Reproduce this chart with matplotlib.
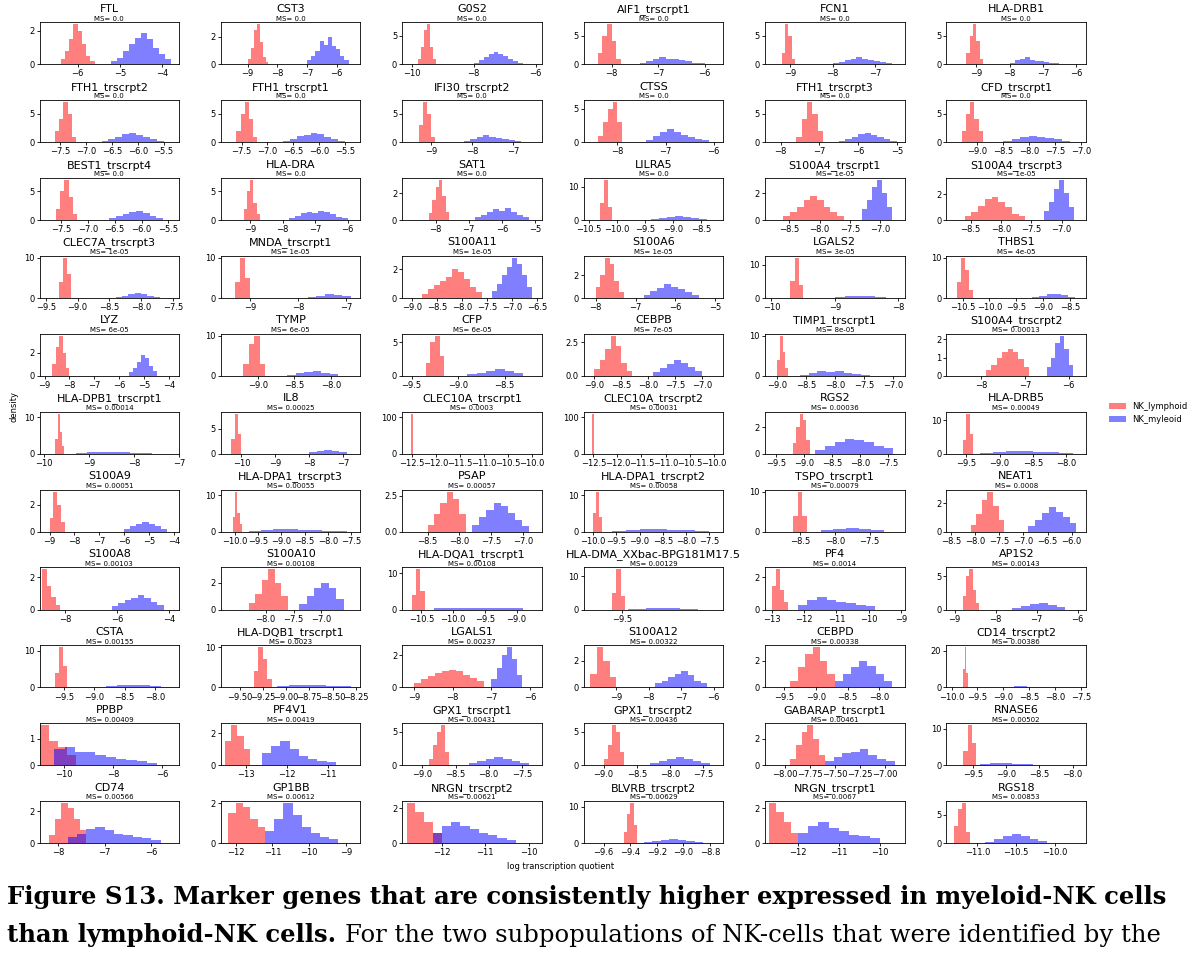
import matplotlib
matplotlib.use("Agg")
import matplotlib.pyplot as plt
import numpy as np

TITLES = [
    "FTL", "CST3", "G0S2", "AIF1_trscrpt1", "FCN1", "HLA-DRB1",
    "FTH1_trscrpt2", "FTH1_trscrpt1", "IFI30_trscrpt2", "CTSS", "FTH1_trscrpt3", "CFD_trscrpt1",
    "BEST1_trscrpt4", "HLA-DRA", "SAT1", "LILRA5", "S100A4_trscrpt1", "S100A4_trscrpt3",
    "CLEC7A_trscrpt3", "MNDA_trscrpt1", "S100A11", "S100A6", "LGALS2", "THBS1",
    "LYZ", "TYMP", "CFP", "CEBPB", "TIMP1_trscrpt1", "S100A4_trscrpt2",
    "HLA-DPB1_trscrpt1", "IL8", "CLEC10A_trscrpt1", "CLEC10A_trscrpt2", "RGS2", "HLA-DRB5",
    "S100A9", "HLA-DPA1_trscrpt3", "PSAP", "HLA-DPA1_trscrpt2", "TSPO_trscrpt1", "NEAT1",
    "S100A8", "S100A10", "HLA-DQA1_trscrpt1", "HLA-DMA_XXbac-BPG181M17.5", "PF4", "AP1S2",
    "CSTA", "HLA-DQB1_trscrpt1", "LGALS1", "S100A12", "CEBPD", "CD14_trscrpt2",
    "PPBP", "PF4V1", "GPX1_trscrpt1", "GPX1_trscrpt2", "GABARAP_trscrpt1", "RNASE6",
    "CD74", "GP1BB", "NRGN_trscrpt2", "BLVRB_trscrpt2", "NRGN_trscrpt1", "RGS18",
]

MS = (["0.0"] * 16 + ["1e-05"] * 6 + ["3e-05", "4e-05"]
      + ["6e-05", "6e-05", "6e-05", "7e-05", "8e-05", "0.00013"]
      + ["0.00014", "0.00025", "0.0003", "0.00031", "0.00036", "0.00049"]
      + ["0.00051", "0.00055", "0.00057", "0.00058", "0.00079", "0.0008"]
      + ["0.00103", "0.00108", "0.00108", "0.00129", "0.0014", "0.00143"]
      + ["0.00155", "0.0023", "0.00237", "0.00322", "0.00338", "0.00386"]
      + ["0.00409", "0.00419", "0.00431", "0.00436", "0.00461", "0.00502"]
      + ["0.00566", "0.00612", "0.00621", "0.00629", "0.0067", "0.00853"])

XLIMS = [
    (-6.9, -3.6), (-9.9, -5.2), (-10.3, -5.8), (-8.6, -5.6), (-9.6, -6.3), (-9.9, -5.7),
    (-7.9, -5.2), (-7.9, -5.2), (-9.7, -6.3), (-8.7, -5.8), (-8.4, -4.8), (-9.6, -6.9),
    (-7.9, -5.3), (-9.9, -5.6), (-9.0, -4.8), (-10.6, -8.1), (-8.9, -6.6), (-8.9, -6.6),
    (-9.6, -7.4), (-9.6, -6.7), (-9.2, -6.4), (-8.3, -4.8), (-10.1, -7.9), (-10.8, -8.2),
    (-9.2, -3.6), (-9.5, -7.6), (-9.6, -8.1), (-9.2, -6.6), (-9.2, -6.8), (-8.8, -5.6),
    (-10.1, -7.0), (-10.6, -6.5), (-12.7, -9.8), (-12.7, -9.8), (-9.7, -7.2), (-9.8, -7.7),
    (-9.4, -3.8), (-10.3, -7.3), (-8.9, -6.7), (-10.2, -7.2), (-9.0, -7.0), (-8.6, -5.7),
    (-9.0, -3.6), (-8.8, -6.3), (-10.8, -8.6), (-10.1, -7.9), (-13.2, -8.9), (-9.2, -5.8),
    (-9.9, -7.6), (-9.7, -8.2), (-9.3, -5.7), (-10.0, -5.7), (-9.8, -7.6), (-10.1, -7.4),
    (-11.0, -5.3), (-13.6, -10.2), (-9.3, -7.2), (-9.3, -7.2), (-8.2, -6.8), (-9.9, -7.8),
    (-8.4, -5.4), (-12.4, -8.6), (-12.9, -9.7), (-9.75, -8.7), (-12.8, -9.4), (-11.4, -9.6),
]

H = [-7.5, -7.0, -6.5, -6.0, -5.5]
XTICKS = [
    [-6, -5, -4], [-9, -8, -7, -6], [-10, -8, -6], [-8, -7, -6], [-9, -8, -7], [-9, -8, -7, -6],
    H, H, [-9, -8, -7], [-8, -7, -6], [-8, -7, -6, -5], [-9.0, -8.5, -8.0, -7.5, -7.0],
    H, [-9, -8, -7, -6], [-8, -7, -6, -5], [-10.5, -10.0, -9.5, -9.0, -8.5],
    [-8.5, -8.0, -7.5, -7.0], [-8.5, -8.0, -7.5, -7.0],
    [-9.5, -9.0, -8.5, -8.0, -7.5], [-9, -8, -7], [-9.0, -8.5, -8.0, -7.5, -7.0, -6.5],
    [-8, -7, -6, -5], [-10, -9, -8], [-10.5, -10.0, -9.5, -9.0, -8.5],
    [-9, -8, -7, -6, -5, -4], [-9.0, -8.5, -8.0], [-9.5, -9.0, -8.5],
    [-9.0, -8.5, -8.0, -7.5, -7.0], [-9.0, -8.5, -8.0, -7.5, -7.0], [-8, -7, -6],
    [-10, -9, -8, -7], [-10, -9, -8, -7], [-12.5, -12.0, -11.5, -11.0, -10.5, -10.0],
    [-12.5, -12.0, -11.5, -11.0, -10.5, -10.0], [-9.5, -9.0, -8.5, -8.0, -7.5],
    [-9.5, -9.0, -8.5, -8.0],
    [-9, -8, -7, -6, -5, -4], [-10.0, -9.5, -9.0, -8.5, -8.0, -7.5], [-8.5, -8.0, -7.5, -7.0],
    [-10.0, -9.5, -9.0, -8.5, -8.0, -7.5], [-8.5, -8.0, -7.5],
    [-8.5, -8.0, -7.5, -7.0, -6.5, -6.0],
    [-8, -6, -4], [-8.0, -7.5, -7.0], [-10.5, -10.0, -9.5, -9.0], [-9.5],
    [-13, -12, -11, -10, -9], [-9, -8, -7, -6],
    [-9.5, -9.0, -8.5, -8.0], [-9.50, -9.25, -9.00, -8.75, -8.50, -8.25], [-9, -8, -7, -6],
    [-9, -8, -7, -6], [-9.5, -9.0, -8.5, -8.0], [-10.0, -9.5, -9.0, -8.5, -8.0, -7.5],
    [-10, -8, -6], [-13, -12, -11], [-9.0, -8.5, -8.0, -7.5], [-9.0, -8.5, -8.0, -7.5],
    [-8.00, -7.75, -7.50, -7.25, -7.00], [-9.5, -9.0, -8.5, -8.0],
    [-8, -7, -6], [-12, -11, -10, -9], [-12, -11, -10], [-9.6, -9.4, -9.2, -9.0, -8.8],
    [-12, -11, -10], [-11.0, -10.5, -10.0],
]
TWO_DEC = {49, 58}

YTICKS = [
    [0, 2], [0, 2], [0, 5], [0, 5], [0, 5], [0, 5],
    [0, 5], [0, 5], [0, 5], [0, 5], [0, 5], [0, 5],
    [0, 5], [0, 5], [0, 2], [0, 10], [0, 2], [0, 2],
    [0, 10], [0, 10], [0, 2], [0, 2], [0, 10], [0, 10],
    [0, 2], [0, 10], [0, 5], [0, 2.5], [0, 10], [0, 1, 2],
    [0, 10], [0, 5], [0, 100], [0, 100], [0, 2], [0, 10],
    [0, 2], [0, 10], [0, 2.5], [0, 10], [0, 10], [0, 2],
    [0, 2], [0, 2], [0, 10], [0, 10], [0, 2], [0, 5],
    [0, 10], [0, 10], [0, 2], [0, 2], [0, 2], [0, 20],
    [0, 1], [0, 2], [0, 5], [0, 5], [0, 2], [0, 10],
    [0, 2], [0, 2], [0, 2], [0, 10], [0, 2], [0, 5],
]

# (start, end) of histogram range per panel, and bin heights
RED_RANGE = [
    (-6.4, -5.6), (-9.0, -8.3), (-9.8, -9.2), (-8.3, -7.8), (-9.2, -8.9), (-9.3, -8.8),
    (-7.6, -7.2), (-7.6, -7.2), (-9.3, -8.9), (-8.4, -7.9), (-7.6, -6.9), (-9.3, -8.9),
    (-7.6, -7.2), (-9.2, -8.7), (-8.2, -7.6), (-10.3, -10.1), (-8.6, -7.6), (-8.6, -7.6),
    (-9.3, -9.1), (-9.3, -9.0), (-8.8, -7.6), (-8.0, -7.3), (-9.7, -9.5), (-10.6, -10.3),
    (-8.7, -8.0), (-9.2, -8.9), (-9.35, -9.15), (-9.0, -8.3), (-9.0, -8.8), (-7.9, -6.9),
    (-9.75, -9.55), (-10.3, -10.0), (-12.52, -12.48), (-12.52, -12.48), (-9.2, -8.9), (-9.55, -9.4),
    (-9.0, -8.4), (-10.05, -9.85), (-8.5, -7.9), (-10.0, -9.8), (-8.6, -8.4), (-8.1, -7.4),
    (-8.9, -8.2), (-8.3, -7.6), (-10.65, -10.45), (-9.65, -9.45), (-13.0, -12.5), (-8.8, -8.4),
    (-9.65, -9.45), (-9.35, -9.15), (-9.0, -7.2), (-9.8, -9.0), (-9.4, -8.7), (-9.78, -9.68),
    (-11.0, -9.5), (-13.5, -12.9), (-8.9, -8.6), (-9.0, -8.7), (-7.95, -7.6), (-9.65, -9.45),
    (-8.2, -7.4), (-12.2, -11.2), (-12.8, -12.0), (-9.45, -9.35), (-12.7, -12.0), (-11.3, -11.1),
]
RED_DENS = [
    [0.3, 0.8, 1.5, 2.4, 2.0, 1.2, 0.5, 0.2], [0.4, 1.2, 2.5, 2.9, 1.6, 0.5, 0.2],
    [1, 3, 6, 7, 3, 1], [2, 5, 7, 4, 1], [2, 7, 5, 1], [2, 5, 7, 4, 1],
    [2, 4, 7, 5, 1], [2, 5, 7, 4, 1], [3, 7, 5, 1], [1, 3, 5, 6, 3], [1, 4, 7, 5, 2], [2, 5, 7, 4, 2],
    [2, 5, 7, 4, 1], [2, 5, 7, 3, 1], [0.5, 1.5, 2.5, 3.0, 1.8, 0.6], [5, 12, 4],
    [0.3, 0.6, 1.0, 1.5, 1.8, 1.5, 1.0, 0.6, 0.3], [0.3, 0.6, 1.1, 1.6, 1.8, 1.4, 1.0, 0.5, 0.3],
    [4, 10, 6], [4, 10, 5], [0.3, 0.6, 0.9, 1.2, 1.5, 2.0, 1.8, 1.3, 0.8, 0.4],
    [1, 2, 3.5, 3, 1.5, 0.5], [5, 12, 4], [4, 10, 7, 2],
    [1, 2.5, 3.5, 2, 0.7], [3, 8, 10, 3], [2, 5, 6, 3], [0.5, 1.2, 2.0, 3.0, 2.2, 1.0, 0.4],
    [4, 10, 6, 2], [0.3, 0.6, 1.0, 1.3, 1.5, 1.3, 0.9, 0.5],
    [4, 11, 6, 2], [3, 8, 4], [110], [110], [0.8, 2, 3, 2.5, 1], [4, 12, 6],
    [1, 3, 2, 0.7], [4, 11, 5, 2], [0.5, 1.2, 2.0, 2.8, 2.3, 1.2], [5, 11, 4], [4, 10, 4],
    [0.5, 1.2, 2.2, 2.8, 1.8, 0.8],
    [2.5, 1.5, 0.8, 0.3], [0.5, 1.2, 2.2, 3.0, 2.0, 1.0], [4, 11, 5], [5, 12, 4],
    [1.5, 2.5, 1.2, 0.5], [2, 5, 6, 3, 1],
    [4, 11, 6], [4, 10, 7, 2], [0.3, 0.5, 0.7, 0.9, 1.0, 1.1, 1.0, 0.8, 0.6, 0.4],
    [1.0, 3.0, 2.0, 0.8], [0.5, 1.5, 2.5, 3.0, 2.0, 1.0], [10, 22, 8],
    [1.5, 0.9, 0.7, 0.4], [1.5, 2.5, 1.8, 1.0], [1, 3, 5, 6, 2], [1, 3, 6, 5, 2],
    [0.5, 1.5, 2.5, 3.0, 2.0, 0.8], [4, 11, 6],
    [0.5, 1.5, 2.5, 2.2, 1.5, 0.8], [1.5, 2.0, 1.8, 1.2, 0.8], [2.3, 1.8, 1.2, 0.6],
    [3, 8, 11, 5], [2.3, 1.8, 1.2, 0.6], [3, 6, 7, 2],
]
BLUE_RANGE = [
    (-5.2, -3.8), (-7.0, -5.6), (-8.0, -6.4), (-7.4, -6.0), (-8.0, -6.6), (-8.0, -6.5),
    (-6.7, -5.5), (-6.7, -5.5), (-8.2, -6.8), (-7.4, -6.1), (-6.5, -5.0), (-8.5, -7.2),
    (-6.6, -5.6), (-7.8, -6.0), (-6.8, -5.2), (-9.4, -8.4), (-7.3, -6.8), (-7.3, -6.8),
    (-8.4, -7.7), (-7.8, -6.9), (-7.4, -6.6), (-6.8, -5.4), (-9.0, -8.2), (-9.2, -8.4),
    (-5.6, -4.5), (-8.6, -7.9), (-8.9, -8.3), (-7.9, -7.0), (-8.6, -7.4), (-6.5, -5.9),
    (-9.3, -7.6), (-8.0, -6.9), (-12.5, -10.0), (-12.5, -10.0), (-8.8, -7.4), (-9.3, -7.9),
    (-6.0, -4.3), (-9.7, -7.6), (-7.8, -6.9), (-9.6, -7.5), (-8.2, -7.3), (-6.9, -5.9),
    (-6.2, -4.2), (-7.4, -6.6), (-10.3, -8.9), (-9.4, -8.3), (-12.2, -9.8), (-7.6, -6.3),
    (-8.8, -7.9), (-9.1, -8.3), (-7.0, -6.2), (-7.8, -6.2), (-8.7, -7.8), (-9.3, -7.8),
    (-10.4, -6.2), (-12.6, -10.8), (-8.3, -7.4), (-8.3, -7.4), (-7.6, -6.9), (-9.4, -8.6),
    (-7.8, -5.8), (-11.2, -9.2), (-12.2, -10.3), (-9.3, -8.85), (-12.0, -10.0), (-10.9, -10.1),
]
BLUE_DENS = [
    [0.2, 0.4, 0.8, 1.2, 1.6, 1.9, 1.5, 1.0, 0.6, 0.3], [0.3, 0.6, 1.0, 1.7, 1.4, 2.0, 1.3, 1.1, 0.6, 0.3],
    [0.3, 0.8, 1.2, 1.8, 2.2, 1.8, 1.5, 1.0, 0.6, 0.3], [0.3, 0.6, 0.9, 1.2, 1.0, 0.9, 0.8, 0.5, 0.3, 0.2],
    [0.2, 0.4, 0.7, 1.0, 1.2, 1.0, 0.8, 0.6, 0.4, 0.2], [0.3, 0.7, 1.0, 1.2, 0.8, 0.6, 0.5, 0.4, 0.3, 0.2],
    [0.3, 0.6, 1.0, 1.4, 1.6, 1.3, 1.0, 0.6, 0.3], [0.3, 0.6, 1.1, 1.3, 1.6, 1.4, 1.0, 0.6, 0.3],
    [0.3, 0.6, 0.9, 1.2, 1.0, 0.8, 0.6, 0.4, 0.3], [0.4, 0.9, 1.6, 2.0, 1.5, 1.1, 0.8, 0.5, 0.3],
    [0.3, 0.6, 1.0, 1.4, 1.6, 1.2, 0.9, 0.5, 0.3], [0.3, 0.6, 1.0, 1.1, 0.9, 0.7, 0.5, 0.3],
    [0.3, 0.7, 1.0, 1.4, 1.6, 1.2, 0.8, 0.4], [0.4, 0.8, 1.2, 1.5, 1.3, 1.6, 1.4, 1.0, 0.6, 0.3],
    [0.2, 0.4, 0.6, 0.8, 0.7, 0.9, 0.6, 0.4, 0.2], [0.3, 0.6, 1.0, 1.2, 0.9, 0.6, 0.3],
    [0.8, 1.5, 2.5, 3.0, 2.0, 1.0], [0.7, 1.4, 2.4, 3.1, 2.1, 1.0],
    [0.3, 0.6, 1.0, 1.3, 1.0, 0.6, 0.3], [0.3, 0.6, 0.9, 0.7, 0.4],
    [0.5, 1.0, 1.6, 2.2, 2.8, 2.4, 1.6, 0.8], [0.3, 0.6, 0.9, 1.2, 1.0, 0.8, 0.5, 0.3],
    [0.3, 0.5, 0.7, 0.5, 0.3], [0.3, 0.6, 0.9, 1.0, 0.7, 0.3],
    [0.3, 0.7, 1.2, 1.8, 1.6, 0.9, 0.4], [0.3, 0.7, 1.0, 1.2, 0.8, 0.4],
    [0.3, 0.5, 0.8, 1.0, 0.7, 0.4], [0.3, 0.6, 0.9, 1.2, 1.0, 0.7, 0.4],
    [0.3, 0.8, 1.2, 0.9, 1.1, 0.8, 0.5, 0.3], [0.5, 1.0, 1.8, 2.2, 1.5, 0.6],
    [0.3, 0.5, 0.6, 0.5, 0.4, 0.3, 0.2], [0.3, 0.5, 0.7, 0.5, 0.3],
    [0.5] * 8, [0.5] * 8, [0.3, 0.6, 0.9, 1.1, 1.0, 0.9, 0.6, 0.4], [0.3, 0.6, 0.9, 0.7, 0.5, 0.4, 0.3],
    [0.2, 0.4, 0.6, 0.7, 0.6, 0.4, 0.2], [0.3, 0.5, 0.6, 0.6, 0.5, 0.4, 0.3, 0.2],
    [0.5, 1.0, 1.5, 2.0, 1.8, 1.3, 0.8, 0.4], [0.3, 0.5, 0.6, 0.6, 0.5, 0.4, 0.3],
    [0.3, 0.6, 0.8, 0.6, 0.4], [0.4, 0.8, 1.3, 1.7, 1.4, 1.0, 0.6],
    [0.2, 0.4, 0.6, 0.7, 0.9, 0.7, 0.5, 0.3], [0.4, 1.0, 1.6, 2.0, 1.6, 0.8],
    [0.3, 0.5, 0.5, 0.4, 0.3], [0.3, 0.4, 0.4, 0.3],
    [0.3, 0.6, 0.8, 0.6, 0.5, 0.4, 0.3, 0.2], [0.3, 0.6, 0.9, 1.0, 0.7, 0.4],
    [0.3, 0.6, 0.8, 0.7, 0.4], [0.3, 0.5, 0.6, 0.5, 0.4, 0.3],
    [0.5, 1.2, 2.0, 2.5, 1.8, 0.8], [0.3, 0.5, 0.8, 1.0, 1.2, 0.9, 0.5, 0.3],
    [0.5, 1.0, 1.5, 2.0, 1.6, 1.0, 0.5], [0.3, 0.5, 0.6, 0.5, 0.4, 0.3],
    [0.6, 0.7, 0.5, 0.5, 0.4, 0.3, 0.25, 0.2, 0.15, 0.1], [0.8, 1.2, 1.5, 1.0, 0.6, 0.4, 0.3, 0.2],
    [0.3, 0.6, 0.9, 1.2, 1.0, 0.6, 0.3], [0.3, 0.6, 0.9, 1.2, 1.0, 0.6, 0.3],
    [0.3, 0.6, 0.9, 1.0, 1.2, 0.8, 0.5, 0.3], [0.3, 0.6, 0.7, 0.5, 0.3],
    [0.4, 0.6, 0.9, 1.0, 0.8, 0.6, 0.5, 0.4, 0.3, 0.2], [0.6, 1.2, 2.0, 1.4, 0.8, 0.5, 0.3, 0.2],
    [0.6, 1.0, 1.2, 1.0, 0.8, 0.6, 0.5, 0.3, 0.2], [0.3, 0.6, 0.9, 1.2, 1.0, 0.6, 0.3],
    [0.6, 1.0, 1.2, 0.9, 0.7, 0.5, 0.4, 0.3], [0.3, 0.8, 1.2, 1.6, 1.3, 0.8, 0.4],
]

fig = plt.figure(figsize=(12, 9.67), dpi=100)
gs = fig.add_gridspec(11, 6, left=0.033, right=0.905, top=0.977, bottom=0.128,
                      wspace=0.3, hspace=0.85)

for i, title in enumerate(TITLES):
    ax = fig.add_subplot(gs[i // 6, i % 6])
    lo, hi = RED_RANGE[i]
    edges = np.linspace(lo, hi, len(RED_DENS[i]) + 1)
    ax.stairs(RED_DENS[i], edges, fill=True, color="red", alpha=0.5,
              label="NK_lymphoid")
    lo, hi = BLUE_RANGE[i]
    edges = np.linspace(lo, hi, len(BLUE_DENS[i]) + 1)
    ax.stairs(BLUE_DENS[i], edges, fill=True, color="blue", alpha=0.5,
              label="NK_myleoid")
    ax.set_xlim(*XLIMS[i])
    ax.set_xticks(XTICKS[i])
    if i in TWO_DEC:
        ax.set_xticklabels([f"{t:.2f}".replace("-", "\u2212") for t in XTICKS[i]])
    ax.set_yticks(YTICKS[i])
    ax.set_ylim(0, None)
    ax.tick_params(labelsize=6, length=2.5, pad=1.2, width=0.6)
    for sp in ax.spines.values():
        sp.set_linewidth(0.6)
    ax.set_title(title, fontsize=8, pad=7.5)
    ax.text(0.5, 1.015, f"MS= {MS[i]}", transform=ax.transAxes, ha="center",
            va="bottom", fontsize=5)
    if i == 0:
        handles, labels = ax.get_legend_handles_labels()

fig.legend(handles, labels, loc="center left", bbox_to_anchor=(0.918, 0.573),
           fontsize=6, frameon=False)
fig.text(0.008, 0.58, "density", rotation=90, fontsize=6, va="center")
fig.text(0.467, 0.101, "log transcription quotient", fontsize=6, ha="center")

cap_kw = dict(fontsize=17.5, family="DejaVu Serif", va="center")
fig.text(0.006, 0.072,
         "Figure S13. Marker genes that are consistently higher expressed in myeloid-NK cells",
         fontweight="bold", **cap_kw)
bold2 = fig.text(0.006, 0.033, "than lymphoid-NK cells. ", fontweight="bold", **cap_kw)
fig.canvas.draw()
bb = bold2.get_window_extent().transformed(fig.transFigure.inverted())
fig.text(bb.x1, 0.033, "For the two subpopulations of NK-cells that were identified by the",
         **cap_kw)

fig.savefig("out.png", dpi=100)
